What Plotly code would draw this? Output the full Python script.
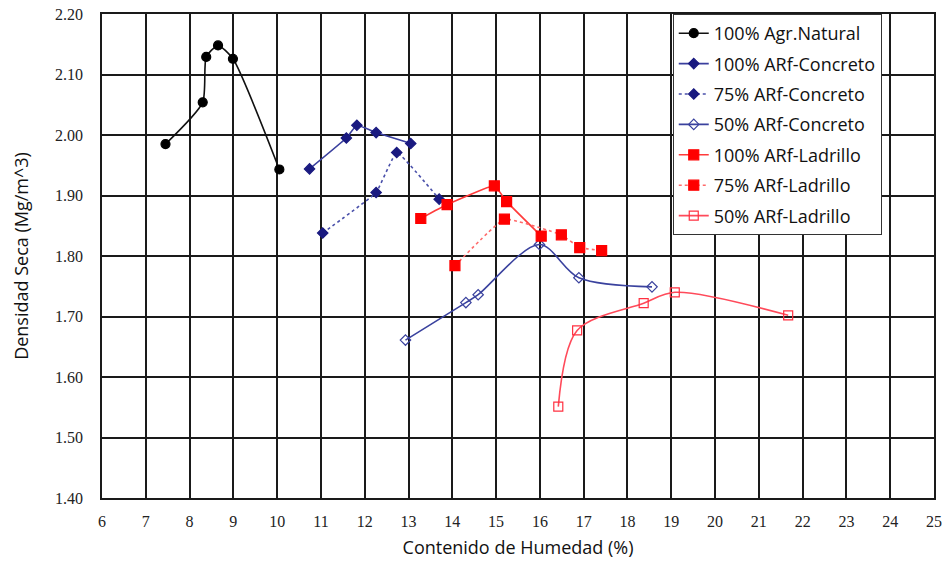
import plotly.graph_objects as go

# Contenido de humedad (%) y densidad seca (Mg/m^3) por mezcla
agr_nat_x = [7.45, 8.30, 8.38, 8.65, 8.99, 10.05]
agr_nat_y = [1.985, 2.054, 2.129, 2.148, 2.126, 1.943]

con100_x = [10.74, 11.58, 11.82, 12.26, 13.05]
con100_y = [1.944, 1.995, 2.016, 2.004, 1.986]

con75_x = [11.04, 12.26, 12.73, 13.70]
con75_y = [1.838, 1.905, 1.971, 1.894]

con50_x = [12.93, 14.31, 14.59, 15.99, 16.89, 18.56]
con50_y = [1.661, 1.723, 1.736, 1.819, 1.764, 1.749]

lad100_x = [13.28, 13.88, 14.96, 15.24, 16.03]
lad100_y = [1.862, 1.885, 1.916, 1.890, 1.833]

lad75_x = [14.06, 15.19, 16.49, 16.91, 17.41]
lad75_y = [1.784, 1.861, 1.835, 1.814, 1.809]

lad50_x = [16.42, 16.85, 18.37, 19.08, 21.67]
lad50_y = [1.551, 1.677, 1.722, 1.740, 1.702]

series = [
    ("100% Agr.Natural", agr_nat_x, agr_nat_y, "#111111", "#000000", "solid", "circle", 9, 0.6),
    ("100% ARf-Concreto", con100_x, con100_y, "#3a3f9e", "#1a1a80", "solid", "diamond", 8, 0.3),
    ("75% ARf-Concreto", con75_x, con75_y, "#4a50aa", "#1a1a80", "dot", "diamond", 8, 0.3),
    ("50% ARf-Concreto", con50_x, con50_y, "#3a429e", "#3a429e", "solid", "diamond-open", 8, 0.9),
    ("100% ARf-Ladrillo", lad100_x, lad100_y, "#ff3b3b", "#ff0000", "solid", "square", 10, 0.3),
    ("75% ARf-Ladrillo", lad75_x, lad75_y, "#ff6a6a", "#ff0000", "dot", "square", 10, 0.3),
    ("50% ARf-Ladrillo", lad50_x, lad50_y, "#ff4a5a", "#ff3040", "solid", "square-open", 9, 0.9),
]

fig = go.Figure()
for i, (name, xs, ys, lc, mc, dash, sym, ms, sm) in enumerate(series):
    fig.add_trace(go.Scatter(
        x=xs, y=ys, name=name, mode="lines+markers",
        legendgroup=f"g{i}",
        line=dict(color=lc, width=1.6, dash=dash, shape="spline", smoothing=sm),
        marker=dict(color=mc, symbol=sym, size=ms, line=dict(color=mc, width=1.2)),
    ))

fig.update_layout(
    width=947, height=564,
    margin=dict(l=102, r=13, t=14, b=66, autoexpand=False),
    paper_bgcolor="white", plot_bgcolor="white",
    showlegend=True,
    legend=dict(
        x=0.686, y=1.0, xanchor="left", yanchor="top",
        bgcolor="white", bordercolor="#333333", borderwidth=1,
        font=dict(family="Open Sans", size=18, color="#111111"),
        tracegroupgap=4, traceorder="grouped",
    ),
    xaxis=dict(
        range=[6, 25], dtick=1, tick0=6,
        showgrid=True, gridcolor="#1a1a1a", gridwidth=1.8,
        showline=True, linecolor="#1a1a1a", linewidth=1.8, mirror=True,
        zeroline=False,
        tickfont=dict(family="Liberation Serif", size=16, color="#222222"),
        ticklabelstandoff=8,
        title=dict(text="Contenido de Humedad (%)",
                   font=dict(family="Open Sans", size=18, color="#111111"),
                   standoff=12),
    ),
    yaxis=dict(
        range=[1.4, 2.2], dtick=0.1, tick0=1.4, tickformat=".2f",
        showgrid=True, gridcolor="#1a1a1a", gridwidth=1.8,
        showline=True, linecolor="#1a1a1a", linewidth=1.8, mirror=True,
        zeroline=False,
        tickfont=dict(family="Liberation Serif", size=16, color="#222222"),
        ticklabelstandoff=14,
        title=dict(text="Densidad Seca (Mg/m^3)",
                   font=dict(family="Open Sans", size=18, color="#111111"),
                   standoff=22),
    ),
)

fig.write_html("out.html")
